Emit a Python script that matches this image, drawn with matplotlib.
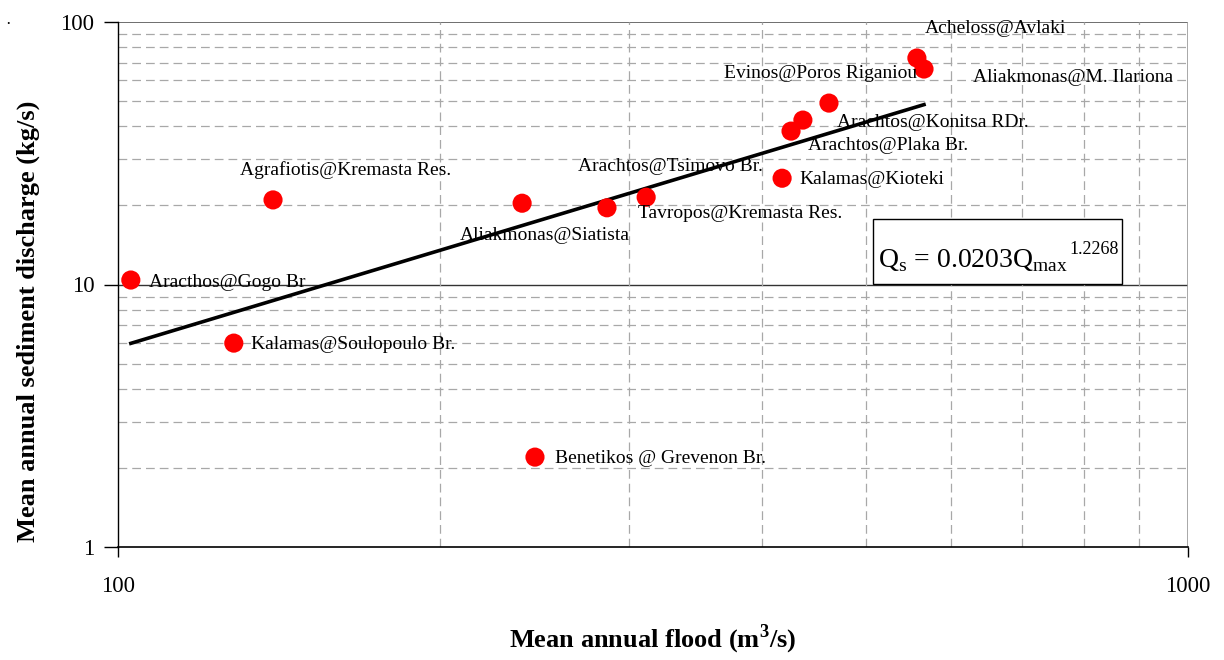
import numpy as np
import matplotlib.pyplot as plt
from matplotlib.patches import Rectangle
from matplotlib.ticker import LogLocator, NullFormatter, FixedLocator

plt.rcParams['font.family'] = ['Liberation Serif', 'DejaVu Serif']
plt.rcParams['mathtext.fontset'] = 'custom'
plt.rcParams['mathtext.rm'] = 'Liberation Serif'
plt.rcParams['mathtext.bf'] = 'Liberation Serif:bold'

W, H = 1224, 660

# station data: mean annual flood (m3/s) vs mean annual sediment discharge (kg/s)
stations = ['Aracthos@Gogo Br', 'Kalamas@Soulopoulo Br.', 'Agrafiotis@Kremasta Res.',
            'Aliakmonas@Siatista', 'Benetikos @ Grevenon Br.', 'Tavropos@Kremasta Res.',
            'Arachtos@Tsimovo Br.', 'Kalamas@Kioteki', 'Arachtos@Plaka Br.',
            'Arachtos@Konitsa RDr.', 'Evinos@Poros Riganiou', 'Acheloss@Avlaki',
            'Aliakmonas@M. Ilariona']
q_flood = [102.8, 128.3, 139.6, 238.6, 245.3, 286.4, 311.6, 417.5, 425.6, 436.6, 461.8, 558.0, 566.6]
q_sed = [10.4, 5.98, 21.0, 20.4, 2.2, 19.6, 21.5, 25.4, 38.4, 42.3, 49.1, 72.9, 66.2]

# power-law fit shown on the chart
coef = 0.0203
expo = 1.2268

# label offsets in pixels (dx, dy) from each point
offsets = [(18, -2), (17, -1), (-33, 30), (-62, -32), (20, -1), (31, -6), (-68, 31),
           (17, -1), (17, -14), (34, -2), (-105, 30), (8, 30), (49, -8)]

fig = plt.figure(figsize=(W / 100, H / 100), dpi=100)
ax = fig.add_axes([118 / W, 1 - 547 / H, 1070 / W, 525 / H])
ax.set_xscale('log')
ax.set_yscale('log')
ax.set_xlim(100, 1000)
ax.set_ylim(1, 100)

# grid
ax.yaxis.set_minor_locator(LogLocator(base=10, subs=np.arange(2, 10)))
ax.xaxis.set_minor_locator(LogLocator(base=10, subs=np.arange(2, 10)))
ax.xaxis.set_minor_formatter(NullFormatter())
ax.yaxis.set_minor_formatter(NullFormatter())
ax.grid(which='minor', color='#a8a8a8', linestyle=(0, (7, 4)), linewidth=0.9)
ax.axhline(10, color='#333333', linewidth=1.0, zorder=1)
ax.axhline(100, color='#555555', linewidth=1.2, zorder=1)
ax.axvline(1000, color='#999999', linewidth=1.2, zorder=1)
ax.tick_params(which='minor', length=0)
ax.tick_params(which='major', direction='out', width=1.0, labelsize=16.5)
ax.tick_params(axis='x', length=7, pad=14)
ax.tick_params(axis='y', length=10, pad=7)
ax.xaxis.set_major_locator(FixedLocator([100, 1000]))
ax.yaxis.set_major_locator(FixedLocator([1, 10, 100]))
ax.set_xticklabels(['100', '1000'])
ax.set_yticklabels(['1', '10', '100'])
for side in ['top', 'right']:
    ax.spines[side].set_visible(False)
ax.spines['left'].set_linewidth(1.0)
ax.spines['bottom'].set_linewidth(1.2)

# trend line
xs = np.geomspace(min(q_flood), max(q_flood), 200)
ax.plot(xs, coef * xs ** expo, color='black', linewidth=2.6, zorder=3)

# points and labels
ax.scatter(q_flood, q_sed, s=190, color='#ff0000', edgecolors='none', zorder=4)
for name, x, y, (dx, dy) in zip(stations, q_flood, q_sed, offsets):
    ax.annotate(name, (x, y), xytext=(dx, dy), textcoords='offset pixels',
                fontsize=14, ha='left', va='center', zorder=5)

# equation box
ax.add_patch(Rectangle((0.7056, 0.501), 0.2327, 0.1238, transform=ax.transAxes,
                       facecolor='white', edgecolor='black', linewidth=1.0, zorder=6))
eq = fig.text(878 / W, 1 - 267 / H, r'Q$_\mathrm{s}$ = 0.0203Q$_\mathrm{max}$',
              fontsize=20, ha='left', va='baseline', zorder=7)
ax.annotate('1.2268', xy=(1, 1), xycoords=eq, xytext=(1, 6), textcoords='offset pixels',
            fontsize=13, ha='left', va='top', zorder=7)

ax.set_xlabel(r'Mean annual flood (m$^\mathbf{3}$/s)', fontsize=19, fontweight='bold', labelpad=18)
ax.set_ylabel('Mean annual sediment discharge (kg/s)', fontsize=19, fontweight='bold')
ax.yaxis.set_label_coords(-0.073, 0.43)
fig.text(0.004, 0.962, '·', fontsize=12, ha='left', va='center')

fig.savefig('out.png', dpi=100)
